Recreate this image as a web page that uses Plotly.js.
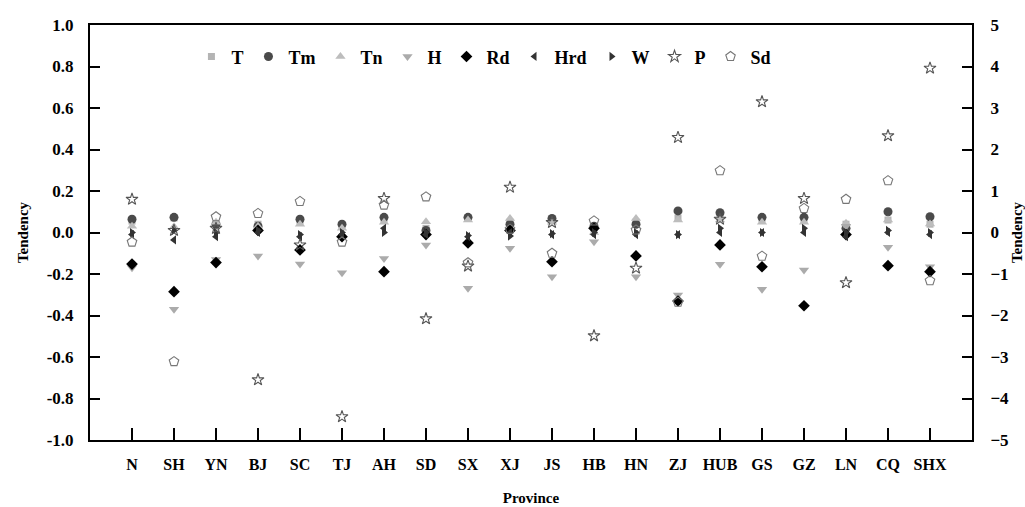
<!DOCTYPE html>
<html>
<head>
<meta charset="utf-8">
<script src="https://cdn.plot.ly/plotly-3.0.1.min.js"></script>
<style>html,body{margin:0;padding:0;background:#fff;}#chart{width:1025px;height:507px;}</style>
</head>
<body>
<div id="chart"></div>
<script>
const provinces = ["N","SH","YN","BJ","SC","TJ","AH","SD","SX","XJ","JS","HB","HN","ZJ","HUB","GS","GZ","LN","CQ","SHX"];
const T   = [0.055,0.07,0.03,0.04,0.055,0.035,0.065,0.02,0.07,0.05,0.06,0.02,0.05,0.07,0.08,0.065,0.06,0.04,0.06,0.04];
const Tm  = [0.064,0.073,0.04,0.03,0.064,0.04,0.073,0.01,0.073,0.04,0.068,0.03,0.04,0.104,0.095,0.073,0.073,0.02,0.1,0.076];
const Tn  = [0.03,0.028,0.05,0.03,0.04,0.02,0.05,0.052,0.06,0.068,0.05,0.0,0.068,0.06,0.06,0.05,0.05,0.044,0.06,0.041];
const H   = [-0.17,-0.37,-0.13,-0.113,-0.152,-0.194,-0.125,-0.06,-0.269,-0.076,-0.213,-0.044,-0.213,-0.301,-0.153,-0.274,-0.181,0.03,-0.071,-0.165];
const Rd  = [-0.152,-0.285,-0.145,0.01,-0.084,-0.02,-0.189,-0.01,-0.05,0.01,-0.141,0.02,-0.113,-0.33,-0.06,-0.165,-0.353,-0.01,-0.16,-0.189];
const Hrd = [-0.01,-0.036,-0.02,0.0,-0.02,-0.01,0.02,-0.01,-0.02,0.0,-0.01,-0.01,-0.01,-0.01,0.0,0.0,0.0,-0.02,0.0,-0.01];
const W   = [0.0,0.01,0.0,0.01,-0.01,0.0,0.0,0.0,-0.015,-0.017,-0.005,0.0,0.0,-0.01,0.02,0.0,0.02,0.0,0.01,0.0];
// P and Sd are plotted against the right axis
const P   = [0.8,0.05,0.1,-3.55,-0.3,-4.44,0.82,-2.08,-0.81,1.09,0.24,-2.49,-0.86,2.29,0.32,3.15,0.82,-1.21,2.33,3.96];
const Sd  = [-0.23,-3.11,0.38,0.46,0.75,-0.23,0.66,0.86,-0.73,0.08,-0.5,0.28,0.06,-1.68,1.49,-0.57,0.58,0.8,1.25,-1.16];
const leftTicks = [-1.0,-0.8,-0.6,-0.4,-0.2,0.0,0.2,0.4,0.6,0.8,1.0];
const rightTicks = [-5,-4,-3,-2,-1,0,1,2,3,4,5];

function tr(name, y, symbol, color, size, axis, lineColor) {
  const m = {symbol: symbol, color: color, size: size};
  if (lineColor) m.line = {color: lineColor, width: 1.1};
  return {type:'scatter', mode:'markers', name:name, x:provinces, y:y, yaxis: axis || 'y', marker:m};
}
const data = [
  tr('T', T, 'square', '#b4b4b4', 7),
  tr('Tm', Tm, 'circle', '#4a4a4a', 9),
  tr('Tn', Tn, 'triangle-up', '#bdbdbd', 9),
  tr('H', H, 'triangle-down', '#ababab', 9),
  tr('Rd', Rd, 'diamond', '#000000', 9),
  tr('Hrd', Hrd, 'triangle-left', '#333333', 8),
  tr('W', W, 'triangle-right', '#333333', 8),
  tr('P', P, 'star-open', '#555555', 9, 'y2', '#555555'),
  tr('Sd', Sd, 'pentagon-open', '#777777', 10, 'y2', '#777777')
];
const fam = 'Liberation Serif, Times New Roman, serif';
const bold = (s) => ({family:fam, size:s, color:'#000', weight:'bold'});
const layout = {
  width:1025, height:507,
  margin:{l:90, r:53, t:25, b:67},
  paper_bgcolor:'#fff', plot_bgcolor:'#fff',
  font: {family:fam, size:15, color:'#000'},
  showlegend:true,
  legend:{orientation:'h', x:0.115, y:0.968, xanchor:'left', yanchor:'top', bgcolor:'rgba(0,0,0,0)',
          font:bold(18), itemwidth:30, tracegroupgap:0},
  xaxis:{type:'category', categoryorder:'array', categoryarray:provinces.concat([' ']), range:[-1,20],
         showline:true, linecolor:'#000', linewidth:2, mirror:true,
         ticks:'inside', ticklen:12, tickwidth:2, tickcolor:'#000',
         showgrid:false, zeroline:false, ticklabelstandoff:9,
         tickfont:bold(16),
         title:{text:'Province', font:bold(15), standoff:20}},
  yaxis:{range:[-1,1], tickvals:leftTicks, ticktext:leftTicks.map(v=>v.toFixed(1)),
         showline:true, linecolor:'#000', linewidth:2,
         ticks:'inside', ticklen:10, tickwidth:2, tickcolor:'#000',
         showgrid:false, zeroline:false, ticklabelstandoff:11,
         tickfont:bold(17),
         title:{text:'Tendency', font:bold(15), standoff:14}},
  yaxis2:{range:[-5,5], tickvals:rightTicks, overlaying:'y', side:'right',
          showline:true, linecolor:'#000', linewidth:2,
          ticks:'inside', ticklen:10, tickwidth:2, tickcolor:'#000',
          showgrid:false, zeroline:false, ticklabelstandoff:13,
          tickfont:bold(17),
          title:{text:'Tendency', font:bold(15), standoff:14}}
};
Plotly.newPlot('chart', data, layout, {displayModeBar:false, staticPlot:true});
</script>
</body>
</html>
